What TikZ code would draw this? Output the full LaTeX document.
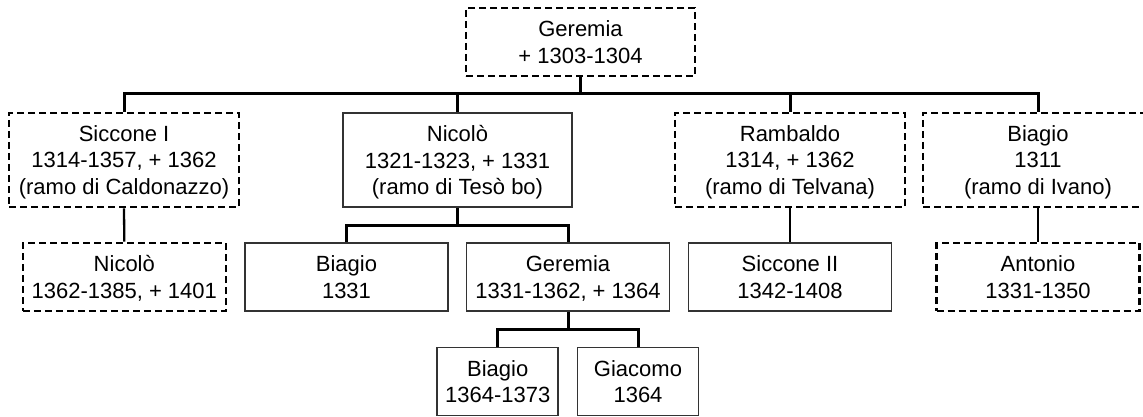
\documentclass[tikz,border=0pt]{standalone}
\usepackage{fontspec}
\setmainfont{Liberation Sans}
\begin{document}
\begin{tikzpicture}[x=1pt,y=-1pt,
  every node/.style={font=\fontsize{22}{26.6}\selectfont, align=center, inner sep=0pt, text depth=0pt},
  dbox/.style={draw=black, line width=2.6pt, dash pattern=on 7pt off 4pt},
  sbox/.style={draw=black!80, line width=1.6pt},
  big/.style={minimum width=230pt, minimum height=94pt},
  mid/.style={minimum width=203pt, minimum height=68pt},
  small/.style={minimum width=121pt, minimum height=68pt},
  conn/.style={line width=3pt},
  subconn/.style={line width=2.3pt}]
\useasboundingbox (0,0) rectangle (1143,417);
\clip (0,0) rectangle (1143,417);
% top
\node[dbox, minimum width=229pt, minimum height=68pt] (g0) at (580.5,42) {Geremia\\+ 1303-1304};
% row 2
\node[dbox, big] (s1) at (124,160) {Siccone I\\1314-1357, + 1362\\(ramo di Caldonazzo)};
\node[sbox, big, minimum width=229pt] (n1) at (457.5,160) {Nicolò\\1321-1323, + 1331\\(ramo di Tesò bo)};
\node[dbox, big] (r1) at (790,160) {Rambaldo\\1314, + 1362\\(ramo di Telvana)};
\node[dbox, big] (bi1) at (1038,160) {Biagio\\1311\\(ramo di Ivano)};
% row 3
\node[dbox, mid] (n2) at (124.3,277) {Nicolò\\1362-1385, + 1401};
\node[sbox, mid] (bg) at (346.5,277) {Biagio\\1331};
\node[sbox, mid] (ge) at (568,277) {Geremia\\1331-1362, + 1364};
\node[sbox, mid] (s2) at (790,277) {Siccone II\\1342-1408};
\node[dbox, mid] (an) at (1038,277) {Antonio\\1331-1350};
% row 4
\node[sbox, small] (bg2) at (497.7,381.5) {Biagio\\1364-1373};
\node[sbox, small] (gi) at (638,381.5) {Giacomo\\1364};
% connectors
\coordinate (b0) at (580.5,94);
\draw[conn] (g0.south) -- (b0);
\draw[conn] (s1.north) |- (b0);
\draw[conn] (n1.north) |- (b0);
\draw[conn] (r1.north) |- (b0);
\draw[conn] (bi1.north) |- (b0);
\draw[subconn] (s1.south) -- (n2.north);
\draw[subconn] (r1.south) -- (s2.north);
\draw[subconn] (bi1.south) -- (an.north);
\coordinate (b1) at (457.5,225);
\draw[conn] (n1.south) -- (b1);
\draw[conn] (bg.north) |- (b1);
\draw[conn] (ge.north) |- (b1);
\coordinate (b2) at (568,329);
\draw[conn] (ge.south) -- (b2);
\draw[conn] (bg2.north) |- (b2);
\draw[conn] (gi.north) |- (b2);
\end{tikzpicture}
\end{document}
